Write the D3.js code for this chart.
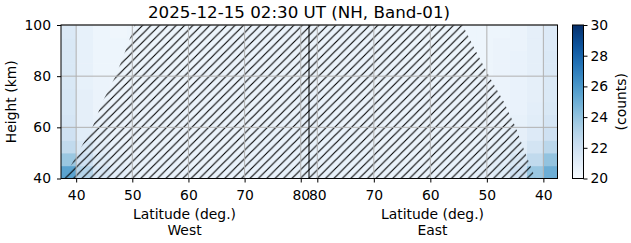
<!DOCTYPE html>
<html>
<head>
<meta charset="utf-8">
<script src="https://cdn.jsdelivr.net/npm/d3@7"></script>
<style>
  body { margin: 0; background: #fff; }
  text { font-family: "DejaVu Sans", sans-serif; fill: #000; }
</style>
</head>
<body>
<div id="chart"></div>
<script>
// latitude bin edges (deg) and height bin edges (km), same for both halves
var latEdges = [37, 40, 43, 46, 49, 52, 55, 58, 61, 64, 67, 70, 73, 76, 79, 82];
var altEdges = [40, 45, 50, 55, 60, 65, 70, 75, 80, 85, 90, 95, 100];

// counts, one row per height bin (bottom to top), one column per latitude bin
var westVals = [
  [25.5, 23.0, 21.6, 21.0, 20.8, 20.7, 20.7, 20.7, 20.7, 20.7, 20.7, 20.7, 20.7, 20.8, 20.8],
  [23.8, 22.0, 21.2, 20.8, 20.7, 20.7, 20.7, 20.6, 20.6, 20.6, 20.7, 20.7, 20.7, 20.7, 20.8],
  [22.6, 21.5, 20.9, 20.7, 20.6, 20.6, 20.6, 20.6, 20.6, 20.6, 20.6, 20.7, 20.7, 20.7, 20.7],
  [22.0, 21.1, 20.8, 20.6, 20.6, 20.6, 20.6, 20.6, 20.6, 20.6, 20.6, 20.6, 20.7, 20.7, 20.7],
  [21.7, 20.9, 20.7, 20.6, 20.6, 20.6, 20.6, 20.6, 20.6, 20.6, 20.6, 20.6, 20.6, 20.7, 20.7],
  [21.6, 20.9, 20.6, 20.6, 20.6, 20.6, 20.6, 20.6, 20.6, 20.6, 20.6, 20.6, 20.6, 20.6, 20.7],
  [21.6, 20.9, 20.6, 20.5, 20.6, 20.6, 20.6, 20.6, 20.6, 20.6, 20.6, 20.6, 20.6, 20.6, 20.7],
  [21.5, 20.8, 20.6, 20.5, 20.5, 20.6, 20.6, 20.5, 20.6, 20.6, 20.6, 20.6, 20.6, 20.6, 20.6],
  [21.5, 20.8, 20.5, 20.5, 20.5, 20.6, 20.5, 20.5, 20.6, 20.6, 20.6, 20.6, 20.6, 20.6, 20.6],
  [21.5, 20.8, 20.5, 20.5, 20.5, 20.5, 20.5, 20.5, 20.5, 20.6, 20.6, 20.6, 20.6, 20.6, 20.6],
  [21.5, 20.8, 20.5, 20.5, 20.5, 20.5, 20.5, 20.5, 20.5, 20.5, 20.6, 20.6, 20.6, 20.6, 20.6],
  [21.4, 20.8, 20.5, 20.4, 20.5, 20.5, 20.5, 20.5, 20.5, 20.5, 20.5, 20.6, 20.6, 20.6, 20.6]
];
var eastVals = [
  [25.0, 23.8, 22.0, 21.2, 20.9, 20.8, 20.7, 20.7, 20.7, 20.7, 20.7, 20.7, 20.7, 20.8, 20.8],
  [24.0, 22.6, 21.5, 21.0, 20.8, 20.7, 20.7, 20.6, 20.6, 20.6, 20.7, 20.7, 20.7, 20.7, 20.8],
  [22.8, 21.8, 21.1, 20.8, 20.7, 20.6, 20.6, 20.6, 20.6, 20.6, 20.6, 20.7, 20.7, 20.7, 20.7],
  [22.0, 21.3, 20.9, 20.7, 20.6, 20.6, 20.6, 20.6, 20.6, 20.6, 20.6, 20.6, 20.7, 20.7, 20.7],
  [21.7, 21.1, 20.8, 20.6, 20.6, 20.6, 20.6, 20.6, 20.6, 20.6, 20.6, 20.6, 20.6, 20.7, 20.7],
  [21.5, 21.0, 20.7, 20.6, 20.6, 20.6, 20.6, 20.6, 20.6, 20.6, 20.6, 20.6, 20.6, 20.6, 20.7],
  [21.4, 20.9, 20.7, 20.6, 20.6, 20.6, 20.6, 20.6, 20.6, 20.6, 20.6, 20.6, 20.6, 20.6, 20.7],
  [21.4, 20.9, 20.7, 20.6, 20.6, 20.6, 20.6, 20.5, 20.6, 20.6, 20.6, 20.6, 20.6, 20.6, 20.6],
  [21.4, 20.9, 20.7, 20.6, 20.5, 20.5, 20.5, 20.5, 20.6, 20.6, 20.6, 20.6, 20.6, 20.6, 20.6],
  [21.4, 20.9, 20.7, 20.6, 20.5, 20.5, 20.5, 20.5, 20.5, 20.6, 20.6, 20.6, 20.6, 20.6, 20.6],
  [21.3, 20.9, 20.6, 20.6, 20.5, 20.5, 20.5, 20.5, 20.5, 20.5, 20.6, 20.6, 20.6, 20.6, 20.6],
  [21.3, 20.9, 20.6, 20.5, 20.5, 20.5, 20.5, 20.5, 20.5, 20.5, 20.5, 20.6, 20.6, 20.6, 20.6]
];

// edge of the hatched (masked) area
var hatchAlt  = [40, 50, 60, 70, 80, 90, 100];
var hatchWest = [37.8, 40.3, 42.9, 44.7, 47.0, 48.8, 50.4];
var hatchEast = [41.4, 43.2, 44.9, 47.0, 49.6, 52.0, 54.3];

var latTicks = [40, 50, 60, 70, 80];
var altTicks = [40, 60, 80, 100];
var cbTicks = [20, 22, 24, 26, 28, 30];

var W = 631, H = 243;
var pL = 61, pR = 557.5, pT = 25, pB = 178.5;
var latMid = 81.47, mid = 309;
var fs = "13.9px";

var svg = d3.select("#chart").append("svg")
  .attr("width", W).attr("height", H);

var xW = d3.scaleLinear().domain([37.3, latMid]).range([pL, mid]);
var xE = d3.scaleLinear().domain([latMid, 37.5]).range([mid, pR]);
var y = d3.scaleLinear().domain([40, 100]).range([pB, pT]);
var color = d3.scaleSequential(d3.interpolateBlues).domain([20, 30]);

// heatmap cells
function cells(vals, side) {
  var out = [];
  vals.forEach(function(row, i) {
    row.forEach(function(v, j) {
      var lo = Math.max(latEdges[j], side == "w" ? 37.3 : 37.5);
      var hi = Math.min(latEdges[j + 1], latMid);
      var xa = side == "w" ? xW(lo) : xE(hi);
      var xb = side == "w" ? xW(hi) : xE(lo);
      out.push({x: xa, w: xb - xa, y: y(altEdges[i + 1]), h: y(altEdges[i]) - y(altEdges[i + 1]), v: v});
    });
  });
  return out;
}

svg.append("g").selectAll("rect")
  .data(cells(westVals, "w").concat(cells(eastVals, "e")))
  .enter().append("rect")
  .attr("x", function(d) { return d.x; })
  .attr("y", function(d) { return d.y; })
  .attr("width", function(d) { return d.w + 0.5; })
  .attr("height", function(d) { return d.h + 0.5; })
  .attr("fill", function(d) { return color(d.v); });

// hatch pattern
var hs = 8.4;
var defs = svg.append("defs");
defs.append("pattern")
  .attr("id", "hatch")
  .attr("patternUnits", "userSpaceOnUse")
  .attr("width", hs).attr("height", hs)
  .append("path")
  .attr("d", "M0," + hs + "L" + hs + ",0M-2,2L2,-2M" + (hs - 2) + "," + (hs + 2) + "L" + (hs + 2) + "," + (hs - 2))
  .attr("stroke", "#000")
  .attr("stroke-width", 1.1);

var poly = [];
hatchAlt.forEach(function(a, i) { poly.push([xW(hatchWest[i]), y(a)]); });
for (var i = hatchAlt.length - 1; i >= 0; i--) poly.push([xE(hatchEast[i]), y(hatchAlt[i])]);

svg.append("path")
  .attr("d", d3.line()(poly) + "Z")
  .attr("fill", "url(#hatch)");

// grid
var grid = svg.append("g").attr("stroke", "#b0b0b0").attr("stroke-width", 1);
latTicks.forEach(function(t) {
  [xW(t), xE(t)].forEach(function(px) {
    grid.append("line").attr("x1", px).attr("x2", px).attr("y1", pT).attr("y2", pB);
  });
});
altTicks.forEach(function(t) {
  grid.append("line").attr("x1", pL).attr("x2", pR).attr("y1", y(t)).attr("y2", y(t));
});

// divider between west and east
svg.append("line")
  .attr("x1", mid).attr("x2", mid).attr("y1", pT).attr("y2", pB)
  .attr("stroke", "#000").attr("stroke-width", 1);

// frame
svg.append("rect")
  .attr("x", pL).attr("y", pT)
  .attr("width", pR - pL).attr("height", pB - pT)
  .attr("fill", "none").attr("stroke", "#000").attr("stroke-width", 1);

function styleAxis(g) {
  g.select(".domain").remove();
  g.selectAll("text").style("font-size", fs).style("font-family", "DejaVu Sans");
  g.selectAll("line").attr("stroke", "#000");
}

svg.append("g").attr("transform", "translate(0," + pB + ")")
  .call(d3.axisBottom(xW).tickValues(latTicks).tickSize(4).tickPadding(8))
  .call(styleAxis);
svg.append("g").attr("transform", "translate(0," + pB + ")")
  .call(d3.axisBottom(xE).tickValues(latTicks).tickSize(4).tickPadding(8))
  .call(styleAxis);
svg.append("g").attr("transform", "translate(" + pL + ",0)")
  .call(d3.axisLeft(y).tickValues(altTicks).tickSize(4).tickPadding(6))
  .call(styleAxis);

// labels
svg.append("text").attr("x", 299).attr("y", 18)
  .attr("text-anchor", "middle").style("font-size", "16.7px")
  .text("2025-12-15 02:30 UT (NH, Band-01)");

svg.append("text")
  .attr("transform", "translate(15.5," + (pT + pB) / 2 + ") rotate(-90)")
  .attr("text-anchor", "middle").style("font-size", fs)
  .text("Height (km)");

[["West", 184.5], ["East", 432.5]].forEach(function(s) {
  svg.append("text").attr("x", s[1]).attr("y", 219)
    .attr("text-anchor", "middle").style("font-size", fs)
    .text("Latitude (deg.)");
  svg.append("text").attr("x", s[1]).attr("y", 234.5)
    .attr("text-anchor", "middle").style("font-size", fs)
    .text(s[0]);
});

// colorbar
var cbX = 572.5, cbW = 11;
var cbY = d3.scaleLinear().domain([20, 30]).range([pB, pT]);
var grad = defs.append("linearGradient").attr("id", "cb")
  .attr("x1", 0).attr("x2", 0).attr("y1", 1).attr("y2", 0);
d3.range(0, 1.001, 0.05).forEach(function(t) {
  grad.append("stop").attr("offset", t).attr("stop-color", d3.interpolateBlues(t));
});
svg.append("rect").attr("x", cbX).attr("y", pT)
  .attr("width", cbW).attr("height", pB - pT)
  .attr("fill", "url(#cb)").attr("stroke", "#000").attr("stroke-width", 1);
svg.append("g").attr("transform", "translate(" + (cbX + cbW) + ",0)")
  .call(d3.axisRight(cbY).tickValues(cbTicks).tickSize(4).tickPadding(3))
  .call(styleAxis);
svg.append("text")
  .attr("transform", "translate(626," + (pT + pB) / 2 + ") rotate(-90)")
  .attr("text-anchor", "middle").style("font-size", fs)
  .text("(counts)");
</script>
</body>
</html>
